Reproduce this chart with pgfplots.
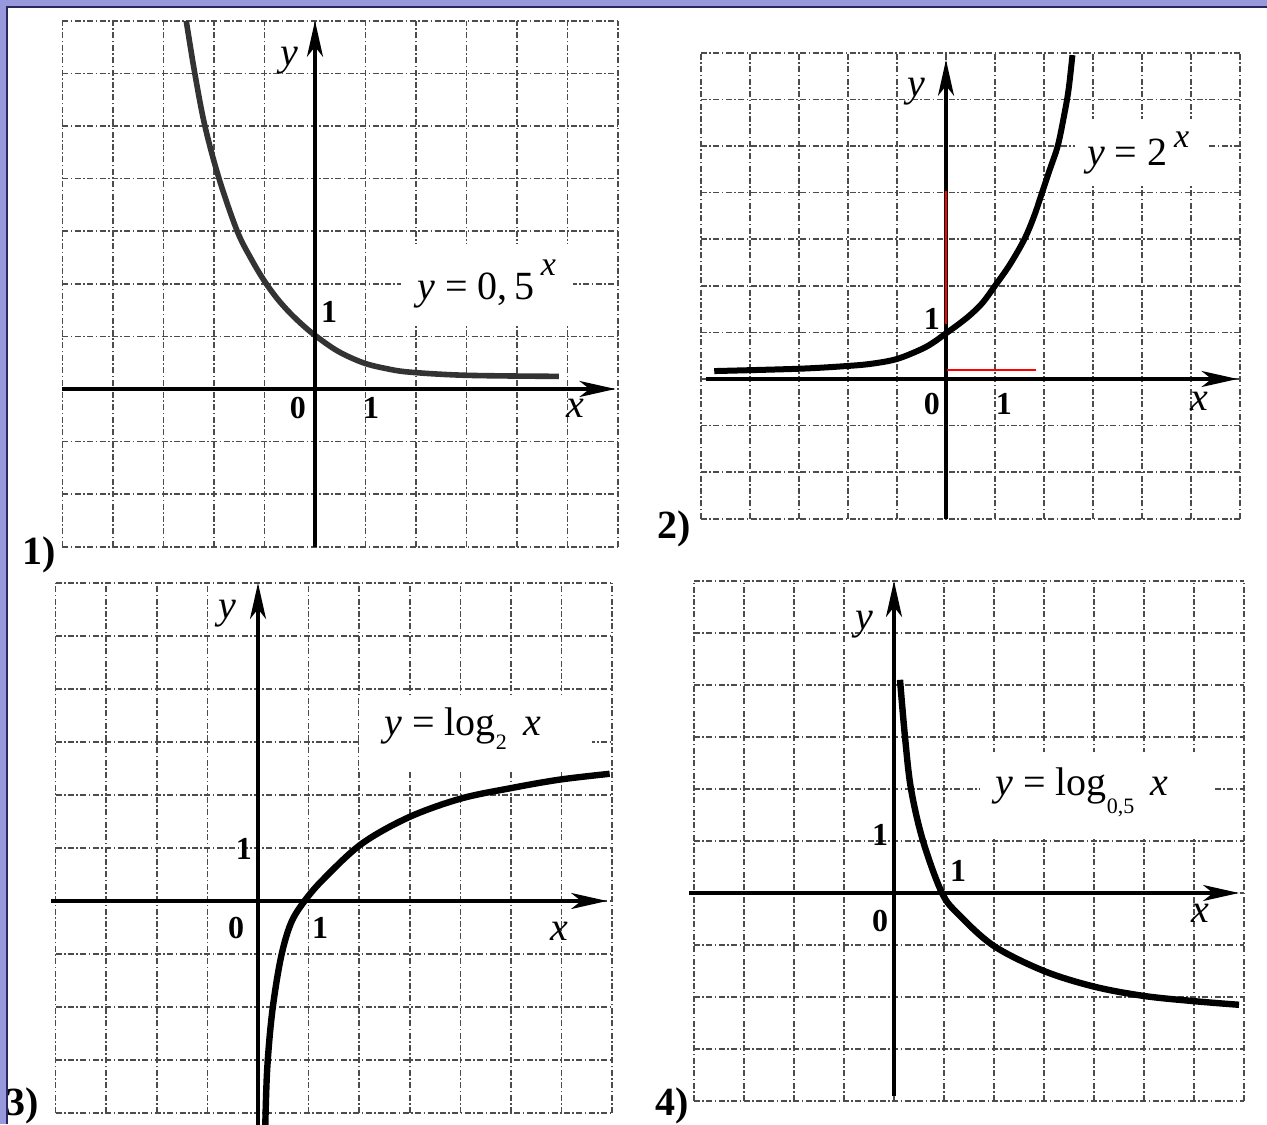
\documentclass[border=0pt]{standalone}
\usepackage{fontspec}
\setmainfont{Liberation Serif}
\usepackage{pgfplots}
\pgfplotsset{compat=1.18}
\usetikzlibrary{arrows.meta}

\definecolor{lav}{RGB}{152,152,220}
\definecolor{navy}{RGB}{40,40,95}

\pgfplotsset{
  panel/.style={
    anchor=origin, clip=false,
    axis line style={draw=none},
    major tick length=0pt,
    xticklabels={}, yticklabels={},
    grid=major,
    major grid style={black!70, line width=0.8pt,
      dash pattern=on 3pt off 1.2pt on 0.8pt off 1.2pt},
  },
  curve/.style={black, line width=3pt, smooth, tension=0.55},
}
\tikzset{
  ax/.style={line width=1.7pt, -{Stealth[length=18pt,width=8pt,inset=5pt]}},
  tl/.style={font=\fontsize{16}{16}\selectfont\bfseries, inner sep=0pt},
  lbl/.style={font=\fontsize{20}{20}\selectfont\itshape, inner sep=0pt},
  fm/.style={font=\fontsize{20}{20}\selectfont, inner sep=0pt},
  box/.style={fill=white, draw=none, inner sep=0pt},
  num/.style={font=\fontsize{20}{20}\selectfont\bfseries, inner sep=0pt},
}

\begin{document}
\begin{tikzpicture}
\useasboundingbox (0,0) rectangle (633.5pt,562pt);
\clip (0,0) rectangle (633.5pt,562pt);
\fill[white] (0,0) rectangle (633.5pt,562pt);

% 1) y = 0,5^x
\begin{axis}[panel, at={(157.5pt,367.5pt)}, x=25.25pt, y=26.3pt,
  xmin=-5, xmax=6, ymin=-3, ymax=7, xtick={-5,...,6}, ytick={-3,...,7}]
\node[box, minimum width=86pt, minimum height=41pt] at (axis cs:3.40,1.97) {};
\addplot[curve, black!80, line width=2.8pt] coordinates {
  (-2.55,7.0) (-2.38,6.0) (-2.18,5.0) (-1.9,4.0) (-1.54,3.0) (-1.25,2.45)
  (-1.0,2.05) (-0.75,1.72) (-0.5,1.45) (-0.25,1.22) (0,1.02) (0.45,0.72)
  (0.95,0.5) (1.4,0.39) (1.88,0.32) (3.0,0.26) (4.83,0.24)};
\draw[ax] (axis cs:-5,0) -- (axis cs:5.95,0);
\draw[ax] (axis cs:0,-3) -- (axis cs:0,7);
\node[fm] at (axis cs:3.4,2.0) {\textit{y} = 0,\,5\,\raisebox{12pt}{\fontsize{17}{17}\selectfont\itshape x}};
\node[lbl] at (axis cs:-0.5,6.25) {y};
\node[lbl] at (axis cs:5.15,-0.36) {x};
\node[tl] at (axis cs:0.28,1.46) {1};
\node[tl] at (axis cs:-0.34,-0.36) {0};
\node[tl] at (axis cs:1.11,-0.36) {1};
\end{axis}

% 2) y = 2^x
\begin{axis}[panel, at={(473pt,372.5pt)}, x=24.5pt, y=23.3pt,
  xmin=-5, xmax=6, ymin=-3, ymax=7, xtick={-5,...,6}, ytick={-3,...,7}]
\node[box, minimum width=67pt, minimum height=33pt] at (axis cs:4.0,4.87) {};
\addplot[curve] coordinates {
  (-4.73,0.17) (-3,0.22) (-2,0.28) (-1.5,0.33) (-1.0,0.43) (-0.5,0.64)
  (-0.25,0.79) (0,0.98) (0.25,1.17) (0.5,1.38) (0.75,1.64) (1.0,2.0)
  (1.3,2.45) (1.6,3.0) (1.8,3.5) (1.96,4.0) (2.12,4.5) (2.28,5.0)
  (2.4,5.6) (2.5,6.2) (2.58,6.95)};
\draw[ax] (axis cs:-4.9,0) -- (axis cs:5.95,0);
\draw[ax] (axis cs:0,-3) -- (axis cs:0,6.85);
\addplot[red, line width=1.1pt] coordinates {(0,1.18) (0,4.03)};
\addplot[red, line width=1.1pt] coordinates {(0.03,0.19) (1.84,0.19)};
\node[fm] at (axis cs:3.92,4.84) {\textit{y} = 2\,\raisebox{9pt}{\fontsize{17}{17}\selectfont\itshape x}};
\node[lbl] at (axis cs:-0.61,6.16) {y};
\node[lbl] at (axis cs:5.18,-0.47) {x};
\node[tl] at (axis cs:-0.29,1.29) {1};
\node[tl] at (axis cs:-0.29,-0.54) {0};
\node[tl] at (axis cs:1.18,-0.54) {1};
\end{axis}

% 3) y = log_2 x
\begin{axis}[panel, at={(129pt,111.5pt)}, x=25.3pt, y=26.5pt,
  xmin=-4, xmax=7, ymin=-4, ymax=6, xtick={-4,...,7}, ytick={-4,...,6}]
\node[box, minimum width=116.5pt, minimum height=37.5pt] at (axis cs:4.3,3.16) {};
\addplot[curve, line width=3.2pt] coordinates {
  (0.14,-4.4) (0.18,-3.2) (0.28,-2.1) (0.45,-1.08) (0.65,-0.42) (0.92,0)
  (1.3,0.42) (2.05,1.08) (2.98,1.58) (4.0,1.93) (5.0,2.13) (5.96,2.29) (6.95,2.4)};
\draw[ax] (axis cs:-4.1,0) -- (axis cs:6.9,0);
\draw[ax] (axis cs:0,-4.5) -- (axis cs:0,6);
\node[fm] at (axis cs:4.05,3.26) {\textit{y} = log\raisebox{-7pt}{\fontsize{11}{11}\selectfont 2}\, \textit{x}};
\node[lbl] at (axis cs:-0.6,5.43) {y};
\node[lbl] at (axis cs:5.95,-0.57) {x};
\node[tl] at (axis cs:-0.28,0.98) {1};
\node[tl] at (axis cs:-0.43,-0.51) {0};
\node[tl] at (axis cs:1.23,-0.51) {1};
\end{axis}

% 4) y = log_0,5 x
\begin{axis}[panel, at={(447pt,115.5pt)}, x=25pt, y=26pt,
  xmin=-4, xmax=7, ymin=-4, ymax=6, xtick={-4,...,7}, ytick={-4,...,6}]
\node[box, minimum width=116pt, minimum height=43.5pt] at (axis cs:4.04,1.87) {};
\addplot[curve, line width=3.2pt] coordinates {
  (0.12,4.1) (0.22,3.0) (0.34,2.0) (0.58,1.0) (0.96,0) (1.3,-0.42) (2,-1.02)
  (3,-1.5) (4,-1.8) (5,-1.98) (6,-2.08) (6.9,-2.15)};
\draw[ax] (axis cs:-4.1,0) -- (axis cs:6.9,0);
\draw[ax] (axis cs:0,-3.9) -- (axis cs:0,6);
\node[fm] at (axis cs:3.76,1.94) {\textit{y} = log\raisebox{-9pt}{\fontsize{11}{11}\selectfont 0,5}\, \textit{x}};
\node[lbl] at (axis cs:-0.6,5.17) {y};
\node[lbl] at (axis cs:6.12,-0.4) {x};
\node[tl] at (axis cs:-0.28,1.12) {1};
\node[tl] at (axis cs:1.28,0.42) {1};
\node[tl] at (axis cs:-0.28,-0.54) {0};
\end{axis}

% panel numbers
\node[num] at (19.5pt,284.5pt) {1)};
\node[num] at (337pt,297.5pt) {2)};
\node[num] at (11pt,9pt) {3)};
\node[num] at (336pt,9pt) {4)};

% lavender frame
\fill[lav] (0,558.75pt) rectangle (633.5pt,562pt);
\fill[lav] (0,0) rectangle (3.25pt,562pt);
\draw[navy, line width=0.8pt] (3.6pt,0) -- (3.6pt,558.4pt) -- (633.5pt,558.4pt);
\end{tikzpicture}
\end{document}
